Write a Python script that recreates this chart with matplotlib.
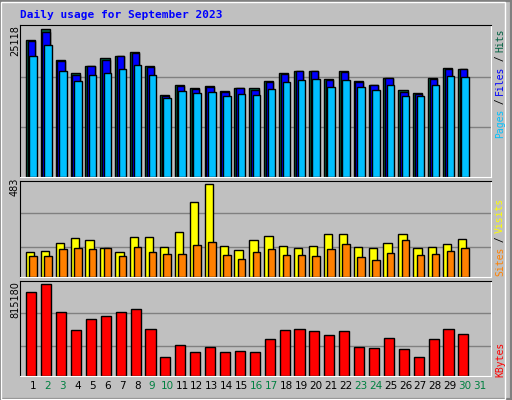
import matplotlib
matplotlib.use("Agg")
import matplotlib.pyplot as plt
from matplotlib.patches import Rectangle

days = list(range(1, 31))
day_labels = [str(d) for d in range(1, 32)]
weekend = [2, 3, 9, 10, 16, 17, 23, 24, 30, 31]

hits = [23243, 25118, 19834, 17617, 18811, 20175, 20516, 21198, 18811, 13867,
        15571, 15060, 15401, 14605, 15060, 15060, 16253, 17617, 17958, 17958,
        16594, 17958, 16253, 15571, 16765, 14719, 14208, 16765, 18470, 18299]
files = [23073, 24607, 19663, 17390, 18811, 19834, 20516, 21027, 18640, 13696,
         15401, 14889, 15230, 14435, 15060, 14719, 16083, 17447, 17958, 17958,
         16424, 17788, 16083, 15571, 16765, 14378, 14037, 16594, 18299, 18299]
pages = [20516, 22391, 17958, 16253, 17276, 17617, 18299, 18981, 17276, 13355,
         14548, 14208, 14378, 13696, 14037, 13867, 14889, 16083, 16424, 16594,
         15230, 16424, 15230, 14719, 15571, 13696, 13696, 15571, 17106, 16935]
visits = [127, 133, 174, 201, 190, 148, 127, 206, 206, 153,
          232, 389, 483, 159, 138, 190, 211, 159, 148, 159,
          221, 221, 153, 148, 174, 221, 148, 153, 169, 195]
sites = [106, 106, 143, 148, 143, 148, 106, 153, 127, 117,
         117, 164, 180, 112, 91, 127, 143, 112, 112, 106,
         143, 169, 101, 85, 122, 190, 112, 117, 133, 148]
kbytes = [743750, 815180, 565250, 404600, 502775, 529550, 565250, 592025, 413525, 163625,
          270725, 208250, 252875, 208250, 217175, 208250, 324275, 404600, 413525, 395675,
          359975, 395675, 252875, 243950, 333200, 235025, 163625, 324275, 413525, 368900]

BG = "#c0c0c0"
MONO = "DejaVu Sans Mono"
fig = plt.figure(figsize=(5.12, 4.0), dpi=100, facecolor=BG)

# outer 3d border
fig.patches.append(Rectangle((0, 0), 1, 1, transform=fig.transFigure, fill=False,
                             edgecolor="#808080", lw=3))
fig.patches.append(Rectangle((0.002, 0.003), 0.985, 0.993, transform=fig.transFigure,
                             fill=False, edgecolor="white", lw=1))

fig.text(20 / 512, 1 - 15 / 400, "Daily usage for September 2023", color="#0000ff",
         fontsize=8, fontweight="bold", family=MONO, va="center", ha="left")


def panel(top, bottom, ymax):
    ax = fig.add_axes([20 / 512, 1 - bottom / 400, 470.7 / 512, (bottom - top) / 400])
    ax.set_facecolor(BG)
    ax.set_xlim(0.13, 31.72)
    ax.set_ylim(0, ymax)
    ax.set_xticks([])
    ax.set_yticks([])
    for s in ["top", "left"]:
        ax.spines[s].set_color("black")
    for s in ["bottom", "right"]:
        ax.spines[s].set_color("white")
    return ax


ek = dict(edgecolor="black", linewidth=1, align="edge")

ax1 = panel(25, 176.7, 25851)
for g in (8418, 17041):
    ax1.axhline(g, color="#808080", lw=1, zorder=0)
ax1.bar([d - 0.48 for d in days], hits, width=0.62, color="#006040", **ek)
ax1.bar([d - 0.36 for d in days], files, width=0.5, color="#0000ff", **ek)
ax1.bar([d - 0.24 for d in days], pages, width=0.5, color="#00c0ff", **ek)
fig.text(15 / 512, 1 - 41 / 400, "25118", rotation=90, fontsize=7, family="DejaVu Sans",
         ha="center", va="center")

ax2 = panel(180.7, 276.7, 502)
for g in (157, 331):
    ax2.axhline(g, color="#808080", lw=1, zorder=0)
ax2.bar([d - 0.48 for d in days], visits, width=0.56, color="#ffff00", **ek)
ax2.bar([d - 0.24 for d in days], sites, width=0.5, color="#ff8000", **ek)
fig.text(15 / 512, 1 - 187 / 400, "483", rotation=90, fontsize=7, family="DejaVu Sans",
         ha="center", va="center")

ax3 = panel(280.7, 375.7, 848200)
for g in (265200, 556200):
    ax3.axhline(g, color="#808080", lw=1, zorder=0)
ax3.bar([d - 0.45 for d in days], kbytes, width=0.68, color="#ff0000", **ek)
fig.text(15 / 512, 1 - 300 / 400, "815180", rotation=90, fontsize=7, family="DejaVu Sans",
         ha="center", va="center")

for i, lab in enumerate(day_labels):
    col = "#008040" if int(lab) in weekend else "black"
    ax3.text(i + 1, -0.11, lab, transform=ax3.get_xaxis_transform(), ha="center",
             va="center", fontsize=7.5, color=col, family="DejaVu Sans")


def side_label(parts, y_top):
    # parts listed top to bottom, text rotated to read upward
    y = y_top
    for txt, col in parts:
        fig.text(500 / 512, 1 - y / 400, txt, rotation=90, color=col, fontsize=7,
                 family=MONO, ha="center", va="top")
        y += len(txt) * 5.4


side_label([("Hits", "#006040"), (" / ", "black"), ("Files", "#0000ff"),
            (" / ", "black"), ("Pages", "#00c0ff")], 28)
side_label([("Visits", "#ffff00"), (" / ", "black"), ("Sites", "#ff8000")], 198)
side_label([("KBytes", "#ff0000")], 342)

fig.savefig("out.png", dpi=100, facecolor=BG)
